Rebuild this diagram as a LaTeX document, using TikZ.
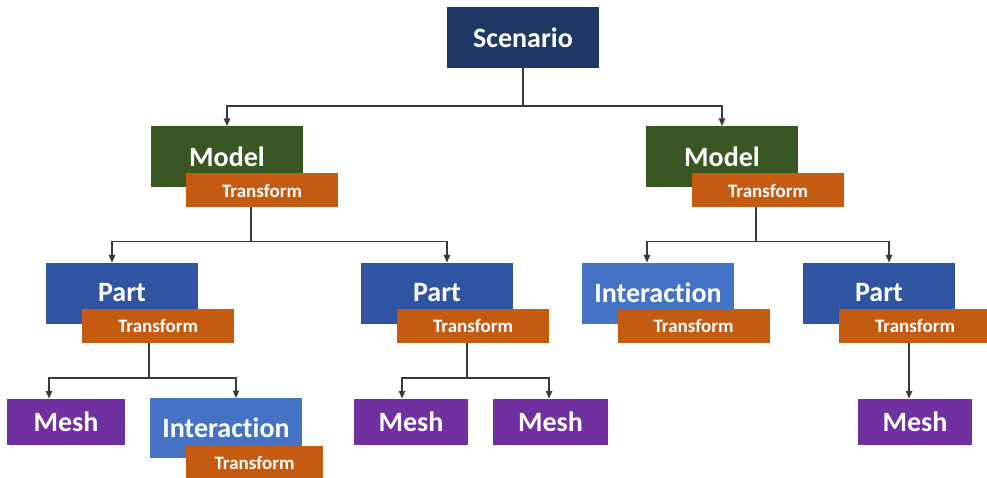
\documentclass[tikz,border=0pt]{standalone}
\usepackage{fontspec}
\setmainfont[Ligatures=NoCommon]{Carlito}
\usetikzlibrary{arrows.meta}
\definecolor{cScen}{HTML}{1F3864}
\definecolor{cModel}{HTML}{385723}
\definecolor{cPart}{HTML}{2F55A2}
\definecolor{cInter}{HTML}{4472C4}
\definecolor{cTrans}{HTML}{C55A11}
\definecolor{cMesh}{HTML}{7030A0}
\definecolor{cLine}{HTML}{3A3A3A}
\tikzset{
  box/.style={rectangle, inner sep=0pt, outer sep=0pt, text=white, font=\bfseries\fontsize{28}{28}\selectfont},
  bigbox/.style={box, minimum width=152pt, minimum height=61pt},
  scenbox/.style={bigbox, fill=cScen},
  modelbox/.style={bigbox, fill=cModel},
  partbox/.style={bigbox, fill=cPart},
  interbox/.style={bigbox, fill=cInter},
  transbox/.style={box, fill=cTrans, minimum width=152pt, minimum height=34pt, font=\bfseries\fontsize{19}{19}\selectfont},
  meshbox/.style={box, fill=cMesh, minimum width=115pt, minimum height=46pt},
  conn/.style={draw=cLine, line width=1.2pt},
  arr/.style={conn, -{Triangle[length=7.5pt,width=6.5pt]}},
}
\begin{document}
\begin{tikzpicture}[x=1pt,y=-1pt]
\useasboundingbox (0,0) rectangle (987,478);
% boxes
\node[scenbox] (scen) at (523,37.5) {Scenario};
\node[modelbox] (m1) at (227,156.5) {Model};
\node[transbox] (m1t) at (262,190.5) {Transform};
\node[modelbox] (m2) at (722,156.5) {Model};
\node[transbox] (m2t) at (768,190.5) {Transform};
\node[partbox] (p1) at (122,293) {Part};
\node[transbox] (p1t) at (158,326) {Transform};
\node[partbox] (p2) at (437,293) {Part};
\node[transbox] (p2t) at (473,326) {Transform};
\node[interbox] (i1) at (658,293) {Interaction};
\node[transbox] (i1t) at (693.5,326) {Transform};
\node[partbox] (p3) at (879,293) {Part};
\node[transbox] (p3t) at (915,326) {Transform};
\node[meshbox, minimum width=118pt] (me1) at (66,421.5) {Mesh};
\node[interbox, minimum height=60pt] (i2) at (226,428) {Interaction};
\node[transbox, minimum width=137pt, minimum height=33pt] (i2t) at (254.5,462.5) {Transform};
\node[meshbox, minimum width=114pt] (me2) at (411,421.5) {Mesh};
\node[meshbox] (me3) at (550.5,421.5) {Mesh};
\node[meshbox, minimum width=114pt] (me4) at (915,421.5) {Mesh};
% junction coordinates
\coordinate (j0) at (523,106);
\coordinate (j1) at (251,241.5);
\coordinate (j2) at (756,241.5);
\coordinate (j3) at (149,378);
\coordinate (j4) at (467,378);
\coordinate (a1) at (227,0);
\coordinate (a2) at (722,0);
\coordinate (a3) at (112,0);
\coordinate (a4) at (447,0);
\coordinate (a5) at (647,0);
\coordinate (a6) at (889,0);
\coordinate (a7) at (49,0);
\coordinate (a8) at (236,0);
\coordinate (a9) at (402,0);
\coordinate (a10) at (549,0);
\coordinate (a11) at (909,0);
% connectors
\draw[conn] (scen.south) -- (j0);
\draw[arr] (j0) -| (a1 |- m1.north);
\draw[arr] (j0) -| (a2 |- m2.north);
\draw[conn] (j1 |- m1t.south) -- (j1);
\draw[arr] (j1) -| (a3 |- p1.north);
\draw[arr] (j1) -| (a4 |- p2.north);
\draw[conn] (j2 |- m2t.south) -- (j2);
\draw[arr] (j2) -| (a5 |- i1.north);
\draw[arr] (j2) -| (a6 |- p3.north);
\draw[conn] (j3 |- p1t.south) -- (j3);
\draw[arr] (j3) -| (a7 |- me1.north);
\draw[arr] (j3) -| (a8 |- i2.north);
\draw[conn] (j4 |- p2t.south) -- (j4);
\draw[arr] (j4) -| (a9 |- me2.north);
\draw[arr] (j4) -| (a10 |- me3.north);
\draw[arr] (a11 |- p3t.south) -- (a11 |- me4.north);
\end{tikzpicture}
\end{document}
